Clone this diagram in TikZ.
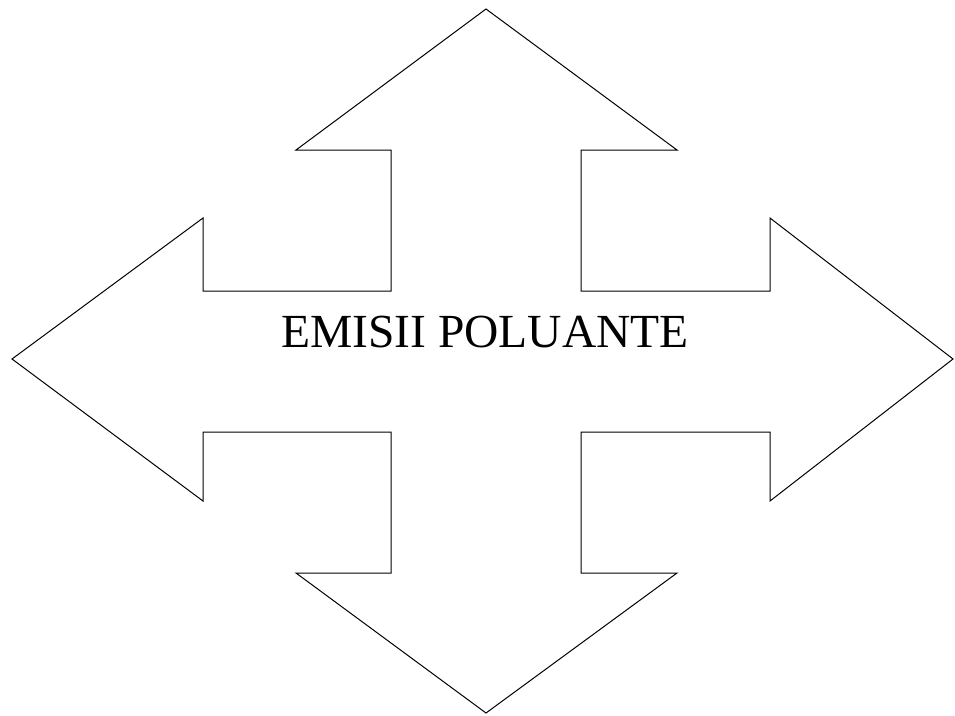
\documentclass[tikz,border=0pt]{standalone}
\usepackage{fontspec}
\setmainfont{Liberation Serif}
\usetikzlibrary{calc}

\begin{document}
\begin{tikzpicture}[x=1pt,y=-1pt,line join=miter]

  \useasboundingbox (0,0) rectangle (955,715);

  % Four-way arrow outline
  \draw[line width=1pt]
    (486,9) -- (677,150) -- (581,150) -- (581,291) -- (770,291) -- (770,218)
    -- (953,359) -- (770,501) -- (770,432) -- (581,432) -- (581,573)
    -- (677,573) -- (486,713) -- (296,573) -- (391,573) -- (391,432)
    -- (203,432) -- (203,501) -- (12,359) -- (203,218) -- (203,291)
    -- (391,291) -- (391,150) -- (296,150) -- cycle;

  % Label
  \node[anchor=base,inner sep=0pt] (label) at (485,347)
    {\fontsize{47.5}{50}\selectfont EMISII POLUANTE};

\end{tikzpicture}
\end{document}
